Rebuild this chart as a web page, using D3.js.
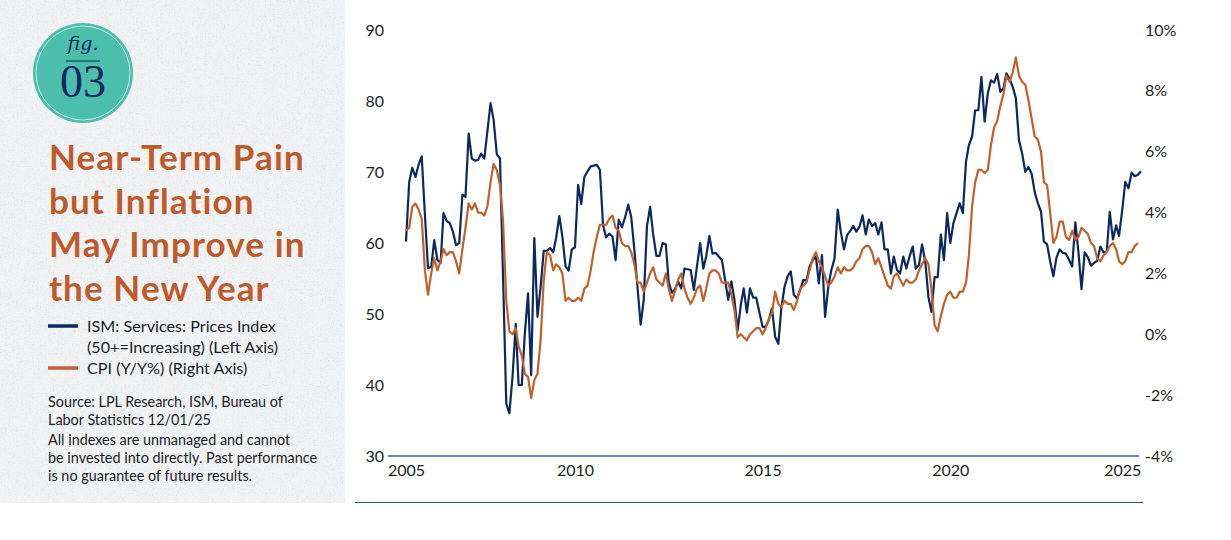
<html>
<head>
<script src="https://cdn.jsdelivr.net/npm/d3@7/dist/d3.min.js"></script>
<style>
body { margin: 0; background: #fff; }
text { font-family: Lato, "Open Sans", sans-serif; }
.axis text { font-size: 16px; fill: #1d1d1f; }
.legend text { font-size: 16.2px; fill: #1d1d1f; }
.note text { font-size: 14.4px; fill: #1d1d1f; }
</style>
</head>
<body>
<svg id="chart" width="1231" height="540"></svg>
<script>
// monthly values, Mar 2006 onward
var firstMonth = new Date(2006, 2, 1);

var ismPrices = [
  60.2, 68.6, 70.6, 69.3, 71.0, 72.2, 64.0, 56.5, 56.6, 60.4,
  57.6, 57.2, 64.2, 63.1, 62.8, 61.6, 59.7, 60.0, 66.8, 66.5, 75.4, 71.9,
  71.6, 71.7, 72.6, 71.9, 75.7, 79.7, 77.3, 72.5, 71.9, 55.0, 37.4, 36.0,
  41.2, 48.6, 40.0, 40.0, 47.3, 52.9, 41.4, 60.7, 49.6, 53.8, 58.9, 58.9,
  59.3, 58.7, 60.7, 63.8, 60.9, 56.7, 56.1, 59.1, 59.4, 68.2, 65.5, 69.3,
  70.1, 70.8, 70.9, 71.0, 70.3, 62.5, 60.8, 61.3, 60.9, 57.6, 63.3, 62.2,
  63.6, 65.4, 63.7, 59.0, 53.8, 48.5, 52.0, 62.3, 65.1, 61.2, 58.2, 58.2,
  60.0, 59.8, 54.5, 53.0, 53.5, 54.6, 53.6, 56.4, 56.3, 56.2, 53.4, 56.7,
  60.0, 56.4, 58.1, 61.0, 58.5, 58.6, 58.1, 57.6, 54.8, 52.0, 54.6, 52.0,
  47.7, 51.3, 53.6, 50.2, 53.6, 52.3, 52.3, 50.2, 48.2, 48.2, 49.2, 50.8,
  46.8, 45.8, 50.8, 53.8, 55.3, 56.0, 52.7, 52.2, 53.4, 54.8, 54.7, 56.7,
  57.6, 58.1, 54.3, 58.3, 49.6, 53.8, 56.2, 57.8, 64.7, 61.6, 59.1, 61.1,
  61.7, 62.4, 61.6, 62.3, 63.9, 61.2, 63.3, 62.4, 62.8, 61.2, 62.9, 59.1,
  59.1, 55.7, 58.1, 56.2, 55.7, 58.1, 56.4, 58.1, 59.5, 56.4, 56.9, 59.8,
  57.4, 52.4, 50.3, 55.2, 55.2, 61.2, 57.6, 64.2, 60.0, 62.8, 64.2, 65.6,
  64.2, 71.5, 73.8, 75.0, 78.7, 78.7, 83.4, 77.1, 81.1, 82.9, 82.6, 83.8,
  81.3, 81.8, 83.9, 83.1, 82.0, 80.4, 74.5, 72.6, 70.0, 70.7, 69.8, 67.2,
  65.6, 64.4, 60.2, 59.8, 57.4, 55.3, 57.9, 59.1, 58.6, 58.5, 57.6, 56.7,
  62.9, 58.6, 53.5, 58.7, 58.0, 56.8, 57.2, 57.5, 59.5, 58.7, 58.7, 64.4,
  60.5, 62.5, 61.0, 64.6, 68.6, 67.7, 69.9, 69.4, 69.6, 70.1
];

var cpiYoY = [
  3.4, 3.5, 4.2, 4.3, 4.1, 3.8, 2.1, 1.3, 2.0, 2.5,
  2.1, 2.4, 2.8, 2.6, 2.7, 2.7, 2.4, 2.0, 2.8, 3.5, 4.3, 4.1,
  4.3, 4.0, 4.0, 3.9, 4.2, 5.0, 5.6, 5.4, 4.9, 3.7, 1.1, 0.1,
  0.0, 0.2, -0.4, -0.7, -1.3, -1.4, -2.1, -1.5, -1.3, -0.2, 1.8, 2.7,
  2.6, 2.1, 2.3, 2.2, 2.0, 1.1, 1.2, 1.1, 1.1, 1.2, 1.1, 1.5,
  1.6, 2.1, 2.7, 3.2, 3.6, 3.6, 3.6, 3.8, 3.9, 3.5, 3.4, 3.0,
  2.9, 2.9, 2.7, 2.3, 1.7, 1.7, 1.4, 1.7, 2.0, 2.2, 1.8, 1.7,
  1.6, 2.0, 1.5, 1.1, 1.4, 1.8, 2.0, 1.5, 1.2, 1.0, 1.2, 1.5,
  1.6, 1.1, 1.5, 2.0, 2.1, 2.1, 2.0, 1.7, 1.7, 1.7, 1.3, 0.8,
  -0.1, 0.0, -0.1, -0.2, 0.0, 0.1, 0.2, 0.2, 0.0, 0.2, 0.5, 0.7,
  1.4, 1.0, 0.9, 1.1, 1.0, 1.0, 0.8, 1.1, 1.5, 1.6, 1.7, 2.1,
  2.5, 2.7, 2.4, 2.2, 1.9, 1.6, 1.7, 1.9, 2.2, 2.0, 2.2, 2.1,
  2.1, 2.2, 2.4, 2.5, 2.8, 2.9, 2.9, 2.7, 2.3, 2.5, 2.2, 1.9,
  1.6, 1.5, 1.9, 2.0, 1.8, 1.6, 1.8, 1.7, 1.7, 1.8, 2.1, 2.3,
  2.5, 2.3, 1.5, 0.3, 0.1, 0.6, 1.0, 1.3, 1.4, 1.2, 1.2, 1.4,
  1.4, 1.7, 2.6, 4.2, 5.0, 5.4, 5.4, 5.3, 5.4, 6.2, 6.8, 7.0,
  7.5, 7.9, 8.5, 8.3, 8.6, 9.1, 8.5, 8.3, 8.2, 7.7, 7.1, 6.5,
  6.4, 6.0, 5.0, 4.9, 4.0, 3.0, 3.2, 3.7, 3.7, 3.2, 3.1, 3.4,
  3.1, 3.2, 3.5, 3.4, 3.3, 3.0, 2.9, 2.5, 2.4, 2.6, 2.7, 2.9,
  3.0, 2.8, 2.4, 2.3, 2.4, 2.7, 2.7, 2.9, 3.0
];

var leftTicks = [30, 40, 50, 60, 70, 80, 90];
var rightTicks = [-4, -2, 0, 2, 4, 6, 8, 10];
var xTickLabels = ["2005", "2010", "2015", "2020", "2025"];
var xTickDates = ["2006-03", "2010-09", "2015-09", "2020-09", "2025-04"];

var titleLines = ["Near-Term Pain", "but Inflation", "May Improve in", "the New Year"];
var legendItems = [
  { lines: ["ISM: Services: Prices Index", "(50+=Increasing) (Left Axis)"], color: "#0b2860" },
  { lines: ["CPI (Y/Y%) (Right Axis)"], color: "#c0602d" }
];
var sourceLines = ["Source: LPL Research, ISM, Bureau of", "Labor Statistics 12/01/25"];
var disclaimerLines = ["All indexes are unmanaged and cannot", "be invested into directly. Past performance", "is no guarantee of future results."];

var svg = d3.select("#chart");
var parseMonth = d3.timeParse("%Y-%m");

// ---- left panel with a stucco-like texture
var defs = svg.append("defs");
var f = defs.append("filter").attr("id", "stucco").attr("x", 0).attr("y", 0).attr("width", 1).attr("height", 1);
f.append("feTurbulence").attr("type", "fractalNoise").attr("baseFrequency", 0.75).attr("numOctaves", 3).attr("seed", 4).attr("result", "n");
f.append("feColorMatrix").attr("in", "n").attr("type", "matrix")
  .attr("values", "0 0 0 0 0.50  0 0 0 0 0.52  0 0 0 0 0.54  -3.2 0 0 0 1.45");
var panel = svg.append("g");
panel.append("rect").attr("width", 345).attr("height", 503).attr("fill", "#f1f3f4");
panel.append("rect").attr("width", 345).attr("height", 503).attr("filter", "url(#stucco)").attr("opacity", 0.32);

// badge
var badge = svg.append("g").attr("transform", "translate(83,73)");
badge.append("circle").attr("r", 50).attr("fill", "#4bbfac");
badge.append("circle").attr("r", 47).attr("fill", "none").attr("stroke", "#e8f6f3").attr("stroke-width", 0.8);
badge.append("text").attr("y", -23).attr("text-anchor", "middle")
  .style("font-family", "'DejaVu Serif', 'Liberation Serif', serif").style("font-style", "italic")
  .style("font-size", "19px").attr("fill", "#0b2860").text("fig.");
badge.append("line").attr("x1", -17).attr("x2", 17).attr("y1", -12).attr("y2", -12)
  .attr("stroke", "#0b2860").attr("stroke-width", 1);
badge.append("text").attr("y", 24).attr("text-anchor", "middle")
  .style("font-family", "'Liberation Serif', 'DejaVu Serif', serif")
  .style("font-size", "46px").attr("fill", "#0b2860").text("03");

// title
svg.append("g").selectAll("text").data(titleLines).enter().append("text")
  .attr("x", 49).attr("y", function(d, i) { return 170 + i * 43.5; })
  .style("font-size", "35px").style("font-weight", "700").style("letter-spacing", "1.1px")
  .attr("fill", "#bf5a2a")
  .text(function(d) { return d; });

// legend
var lg = svg.append("g").attr("class", "legend");
var ly = 332;
legendItems.forEach(function(item) {
  lg.append("line").attr("x1", 48).attr("x2", 78).attr("y1", ly - 6).attr("y2", ly - 6)
    .attr("stroke", item.color).attr("stroke-width", 3.5);
  item.lines.forEach(function(t, j) {
    lg.append("text").attr("x", 87).attr("y", ly + j * 21).text(t);
  });
  ly += item.lines.length * 21;
});

var note = svg.append("g").attr("class", "note");
sourceLines.forEach(function(t, i) { note.append("text").attr("x", 48).attr("y", 407 + i * 17.5).text(t); });
disclaimerLines.forEach(function(t, i) { note.append("text").attr("x", 48).attr("y", 445 + i * 18).text(t); });

// ---- chart
var months = d3.timeMonth.range(firstMonth, d3.timeMonth.offset(firstMonth, ismPrices.length));
var x = d3.scaleTime().domain([months[0], months[months.length - 1]]).range([406, 1141]);
var yL = d3.scaleLinear().domain([30, 90]).range([456, 30]);
var yR = d3.scaleLinear().domain([-4, 10]).range([456, 30]);

var gL = svg.append("g").attr("class", "axis").attr("transform", "translate(384,0)")
  .call(d3.axisLeft(yL).tickValues(leftTicks).tickSize(0).tickPadding(0));
gL.select(".domain").remove();

var gR = svg.append("g").attr("class", "axis").attr("transform", "translate(1145,0)")
  .call(d3.axisRight(yR).tickValues(rightTicks).tickSize(0).tickPadding(0)
    .tickFormat(function(d) { return d + "%"; }));
gR.select(".domain").remove();

var gX = svg.append("g").attr("class", "axis").attr("transform", "translate(0," + yL(30) + ")")
  .call(d3.axisBottom(x).tickValues(xTickDates.map(parseMonth)).tickSize(0).tickPadding(9)
    .tickFormat(function(d, i) { return xTickLabels[i]; }));
gX.select(".domain").remove();
gX.selectAll("text").attr("dy", "0.71em");

svg.append("line").attr("x1", x.range()[0] - 18).attr("x2", x.range()[1] - 2)
  .attr("y1", yL(30)).attr("y2", yL(30)).attr("stroke", "#3c5d9c").attr("stroke-width", 1.5);
svg.append("line").attr("x1", 355).attr("x2", 1143).attr("y1", 502.5).attr("y2", 502.5)
  .attr("stroke", "#34507f").attr("stroke-width", 1);

var lineL = d3.line().x(function(d, i) { return x(months[i]); }).y(function(d) { return yL(d); });
var lineR = d3.line().x(function(d, i) { return x(months[i]); }).y(function(d) { return yR(d); });

svg.append("path").datum(ismPrices).attr("d", lineL).attr("fill", "none")
  .attr("stroke", "#0b2860").attr("stroke-width", 2.2).attr("stroke-linejoin", "round");
svg.append("path").datum(cpiYoY).attr("d", lineR).attr("fill", "none")
  .attr("stroke", "#c0602d").attr("stroke-width", 2.2).attr("stroke-linejoin", "round");
</script>
</body>
</html>
